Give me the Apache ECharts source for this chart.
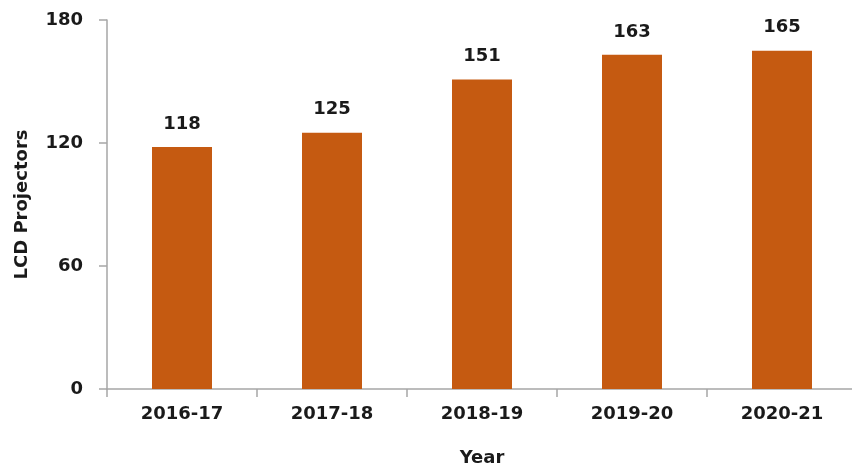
<!DOCTYPE html>
<html>
<head>
<meta charset="utf-8">
<script src="https://cdn.jsdelivr.net/npm/echarts@6/dist/echarts.min.js"></script>
<style>
  html, body { margin: 0; padding: 0; background: #fff; }
  #chart { width: 852px; height: 466px; }
</style>
</head>
<body>
<div id="chart"></div>
<script>
// LCD projectors by academic year
const years = ['2016-17', '2017-18', '2018-19', '2019-20', '2020-21'];
const projectors = [118, 125, 151, 163, 165];
const yTicks = [0, 60, 120, 180];

const font = '"DejaVu Sans", sans-serif';
const textColor = '#1a1a1a';
const axisGray = '#a6a6a6';

const chart = echarts.init(document.getElementById('chart'));
chart.setOption({
  animation: false,
  grid: { left: 107, right: -5, top: 20, bottom: 77, containLabel: false, outerBoundsMode: 'none' },
  xAxis: {
    type: 'category',
    data: years,
    name: 'Year',
    nameLocation: 'middle',
    nameGap: 60,
    nameTextStyle: { fontFamily: font, fontWeight: 'bold', fontSize: 18, color: textColor },
    axisLine: { lineStyle: { color: axisGray, width: 1.5 } },
    axisTick: { show: true, length: 8, lineStyle: { color: axisGray, width: 1.5 } },
    axisLabel: { margin: 16, fontFamily: font, fontWeight: 'bold', fontSize: 18, color: textColor }
  },
  yAxis: {
    type: 'value',
    min: yTicks[0],
    max: yTicks[yTicks.length - 1],
    interval: yTicks[1] - yTicks[0],
    name: 'LCD Projectors',
    nameLocation: 'middle',
    nameGap: 76,
    nameRotate: 90,
    nameTextStyle: { fontFamily: font, fontWeight: 'bold', fontSize: 18, color: textColor },
    axisLine: { show: true, lineStyle: { color: axisGray, width: 1.5 } },
    axisTick: { show: true, length: 8, lineStyle: { color: axisGray, width: 1.5 } },
    splitLine: { show: false },
    axisLabel: { margin: 24, fontFamily: font, fontWeight: 'bold', fontSize: 18, color: textColor }
  },
  series: [{
    type: 'bar',
    data: projectors,
    barWidth: '40%',
    itemStyle: { color: '#c55a11' },
    label: {
      show: true,
      position: 'top',
      distance: 14,
      fontFamily: font,
      fontWeight: 'bold',
      fontSize: 18,
      color: textColor
    }
  }]
});
</script>
</body>
</html>
